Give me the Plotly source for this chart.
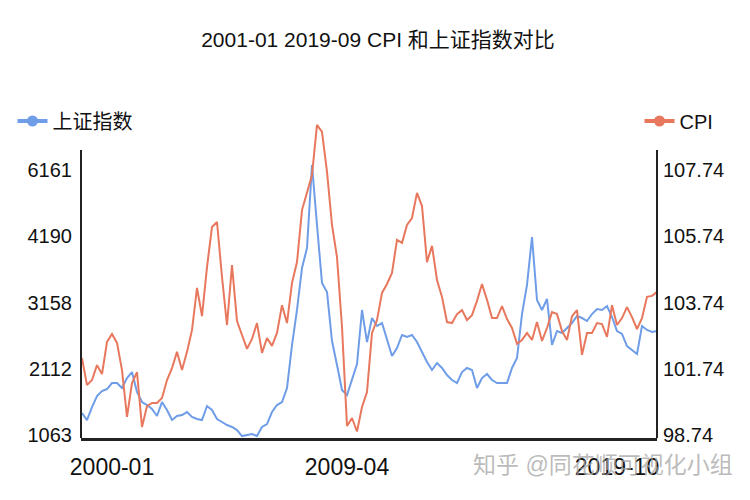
import numpy as np
import plotly.graph_objects as go

# ==================== 数据 ====================

# 上证指数
SH_INDEX = [
    1411, 1300, 1506, 1680, 1760, 1791, 1886, 1886, 1807, 1965,
    2060, 1744, 1585, 1538, 1475, 1364, 1585, 1459, 1300, 1364,
    1380, 1427, 1348, 1316, 1300, 1522, 1459, 1316, 1269, 1221,
    1190, 1142, 1047, 1063, 1079, 1047, 1190, 1237, 1427, 1538,
    1585, 1807, 2487, 3040, 3696, 4007, 6310, 4525, 3462, 3322,
    2550, 2171, 1775, 1696, 1934, 2187, 3040, 2534, 2913, 2787,
    2834, 2566, 2313, 2440, 2645, 2613, 2645, 2534, 2376, 2219,
    2092, 2203, 2124, 2013, 1934, 1886, 2060, 2124, 2092, 1807,
    1965, 2029, 1934, 1886, 1886, 1886, 2124, 2282, 2976, 3431,
    4178, 3197, 3040, 3213, 2487, 2708, 2676, 2755, 2834, 2945,
    2913, 2866, 2976, 3055, 3040, 3103, 2929, 2708, 2661, 2471,
    2408, 2345, 2787, 2724, 2692, 2708,
]

# CPI
CPI = [
    102.06, 101.00, 101.23, 101.85, 101.50, 102.55, 102.79, 102.52, 101.68, 99.56,
    101.09, 101.59, 99.10, 100.05, 100.19, 100.19, 100.42, 101.23, 101.76, 102.25,
    101.68, 102.25, 102.91, 104.18, 103.33, 104.81, 106.02, 106.17, 104.51, 103.06,
    104.87, 103.18, 102.76, 102.34, 102.64, 103.12, 102.22, 102.67, 102.43, 102.82,
    103.66, 103.12, 104.33, 104.96, 106.53, 107.08, 107.59, 109.10, 108.89, 107.68,
    106.08, 105.11, 103.00, 99.15, 99.51, 98.90, 100.01, 100.69, 102.82, 103.21,
    104.03, 104.30, 104.63, 105.63, 105.54, 106.08, 106.29, 107.05, 106.65, 104.96,
    105.45, 104.42, 103.91, 103.15, 103.12, 103.39, 103.51, 103.21, 103.36, 103.79,
    104.30, 103.82, 103.27, 103.27, 103.63, 103.24, 102.97, 102.49, 102.61, 102.82,
    102.61, 103.15, 102.58, 102.97, 103.45, 103.39, 102.88, 102.61, 103.33, 103.51,
    102.16, 102.82, 102.82, 103.12, 103.09, 102.70, 103.66, 103.06, 103.27, 103.60,
    103.30, 102.94, 103.27, 103.91, 103.94, 104.06,
]

# 刻度
SH_TICKS = [1063, 2112, 3158, 4190, 6161]
CPI_TICKS = [98.74, 101.74, 103.74, 105.74, 107.74]
X_LABELS = ["2000-01", "2009-04", "2019-10"]
X_LABEL_AT = [6, 53, 107]

# ==================== 样式常量 ====================

COLOR_SH = "#6f9de8"
COLOR_CPI = "#e8785d"
COLOR_AXIS = "#222222"
COLOR_TEXT = "#111111"
FONT = "Helvetica, Arial, 'Noto Sans CJK SC', sans-serif"
Y_MIN, Y_MAX = -0.045, 4.83
AXIS_TOP = 4.3
PAGE_OFFSET = 8  # 页面 body 默认留白


def to_pos(values, ticks):
    """分段线性刻度：把数值映射到刻度序号位置（两端外推）"""
    v = np.asarray(values, dtype=float)
    t = np.asarray(ticks, dtype=float)
    idx = np.clip(np.searchsorted(t, v) - 1, 0, len(t) - 2)
    return idx + (v - t[idx]) / (t[idx + 1] - t[idx])


x = np.arange(len(SH_INDEX))

fig = go.Figure()

fig.add_trace(go.Scatter(
    x=x, y=to_pos(CPI, CPI_TICKS), customdata=CPI, yaxis="y2",
    mode="lines", line=dict(color=COLOR_CPI, width=2),
    name="CPI", showlegend=False, hovertemplate="CPI %{customdata}<extra></extra>",
))
fig.add_trace(go.Scatter(
    x=x, y=to_pos(SH_INDEX, SH_TICKS), customdata=SH_INDEX,
    mode="lines", line=dict(color=COLOR_SH, width=2),
    name="上证指数", showlegend=False, hovertemplate="上证指数 %{customdata}<extra></extra>",
))

# 图例用的占位曲线
fig.add_trace(go.Scatter(
    x=[None], y=[None], mode="lines+markers", name="上证指数",
    line=dict(color=COLOR_SH, width=4), marker=dict(size=11, color=COLOR_SH),
    legend="legend",
))
fig.add_trace(go.Scatter(
    x=[None], y=[None], mode="lines+markers", name="CPI",
    line=dict(color=COLOR_CPI, width=4), marker=dict(size=11, color=COLOR_CPI),
    legend="legend2",
))

legend_common = dict(
    xref="container", yref="container", yanchor="middle",
    y=1 - (121 - PAGE_OFFSET) / 500,
    bgcolor="rgba(0,0,0,0)", font=dict(size=20, color=COLOR_TEXT, family=FONT),
    itemwidth=30,
)

fig.update_layout(
    width=750, height=500,
    margin=dict(l=81 - PAGE_OFFSET, r=93 + PAGE_OFFSET,
                t=115 - PAGE_OFFSET, b=62 + PAGE_OFFSET, autoexpand=False),
    paper_bgcolor="white", plot_bgcolor="white",
    font=dict(family=FONT, color=COLOR_TEXT),
    title=dict(
        text="2001-01 2019-09 CPI 和上证指数对比",
        x=(378 - PAGE_OFFSET) / 750, xanchor="center",
        y=1 - (40 - PAGE_OFFSET) / 500, yanchor="middle",
        font=dict(size=21, color=COLOR_TEXT),
    ),
    legend=dict(x=0.006, xanchor="left", **legend_common),
    legend2=dict(x=0.842, xanchor="left", **legend_common),
    xaxis=dict(
        range=[-0.2, len(SH_INDEX) - 1], showgrid=False, zeroline=False,
        showline=True, linecolor=COLOR_AXIS, linewidth=2.5,
        tickmode="array", tickvals=X_LABEL_AT, ticktext=X_LABELS,
        ticks="", tickfont=dict(size=23, color=COLOR_TEXT), ticklabelstandoff=7,
    ),
    yaxis=dict(
        range=[Y_MIN, Y_MAX], showgrid=False, zeroline=False, showline=False,
        tickmode="array", tickvals=list(range(len(SH_TICKS))),
        ticktext=[str(t) for t in SH_TICKS],
        ticks="", tickfont=dict(size=20, color=COLOR_TEXT), ticklabelstandoff=8,
    ),
    yaxis2=dict(
        range=[Y_MIN, Y_MAX], overlaying="y", side="right",
        showgrid=False, zeroline=False, showline=False,
        tickmode="array", tickvals=list(range(len(CPI_TICKS))),
        ticktext=[f"{t:.2f}" for t in CPI_TICKS],
        ticks="", tickfont=dict(size=20, color=COLOR_TEXT), ticklabelstandoff=5,
    ),
    showlegend=True,
)

# 左右纵轴线
for xp in (0, 1):
    fig.add_shape(
        type="line", xref="paper", yref="y", x0=xp, x1=xp, y0=Y_MIN, y1=AXIS_TOP,
        line=dict(color=COLOR_AXIS, width=2),
    )

# 水印
fig.add_annotation(
    text="知乎 @同花顺可视化小组", xref="paper", yref="paper",
    x=1.135, y=-0.084, xanchor="right", yanchor="middle", showarrow=False,
    font=dict(size=23, color="rgba(165,165,165,0.75)", family=FONT),
)

fig.write_html("out.html")
